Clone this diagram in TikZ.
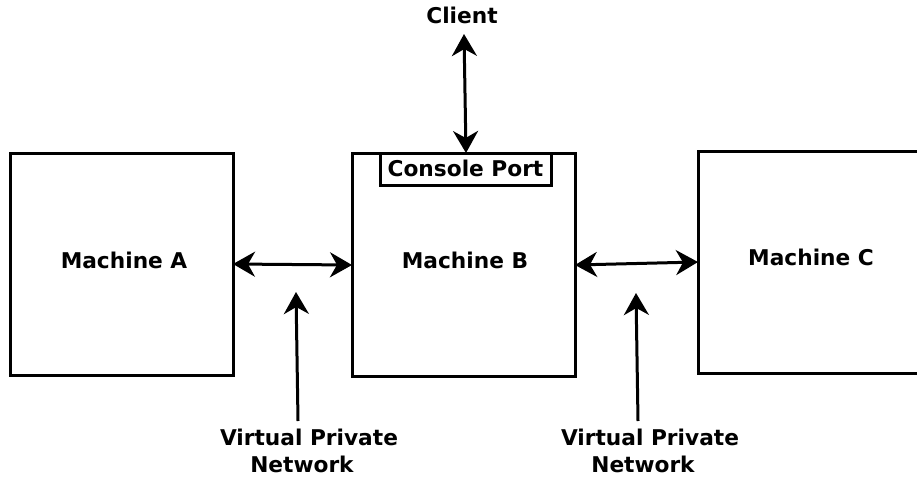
\documentclass[tikz,border=0pt]{standalone}
\usepackage{fontspec}
\setmainfont{DejaVu Sans}
\usetikzlibrary{arrows.meta}
\begin{document}
\begin{tikzpicture}[x=1pt,y=-1pt,
  box/.style={draw,line width=3pt},
  lbl/.style={font=\bfseries\fontsize{21.7}{27}\selectfont,align=center,inner sep=0pt},
  conn/.style={line width=3pt,{Stealth[length=22pt,width=25pt,inset=7pt]}-{Stealth[length=22pt,width=25pt,inset=7pt]}},
  uni/.style={line width=3pt,-{Stealth[length=22pt,width=25pt,inset=7pt]}}]
\useasboundingbox (0,0) rectangle (917,479);
\begin{scope}
\clip (0,0) rectangle (917,479);
\draw[box] (10,153) rectangle (233,375);
\draw[box] (352,153) rectangle (575,376);
\draw[box] (698,151) rectangle (930,373);
\end{scope}
\draw[box,fill=white] (380,153) rectangle (551,185);
\node[lbl] (cp) at (465.5,168) {Console Port};
\node[lbl] (ma) at (124,260) {Machine A};
\node[lbl] (mb) at (465,260) {Machine B};
\node[lbl] (mc) at (811,257) {Machine C};
\node[lbl] (cl) at (462,15) {Client};
\node[lbl] (v1) at (309,451) {Virtual Private\\Network\hspace*{14pt}};
\node[lbl] (v2) at (650,451) {Virtual Private\\Network\hspace*{14pt}};
\coordinate (cltop) at (464,34);
\coordinate (clbot) at (466,153);
\coordinate (aR) at (233,264);
\coordinate (bL) at (352,265);
\coordinate (bR) at (575,265);
\coordinate (cL) at (698,262);
\coordinate (v1s) at (298,421);
\coordinate (v1e) at (296,292);
\coordinate (v2s) at (638,421);
\coordinate (v2e) at (636,293);
\draw[conn] (cltop) -- (clbot);
\draw[conn] (aR) -- (bL);
\draw[conn] (bR) -- (cL);
\draw[uni] (v1s) -- (v1e);
\draw[uni] (v2s) -- (v2e);
\end{tikzpicture}
\end{document}
